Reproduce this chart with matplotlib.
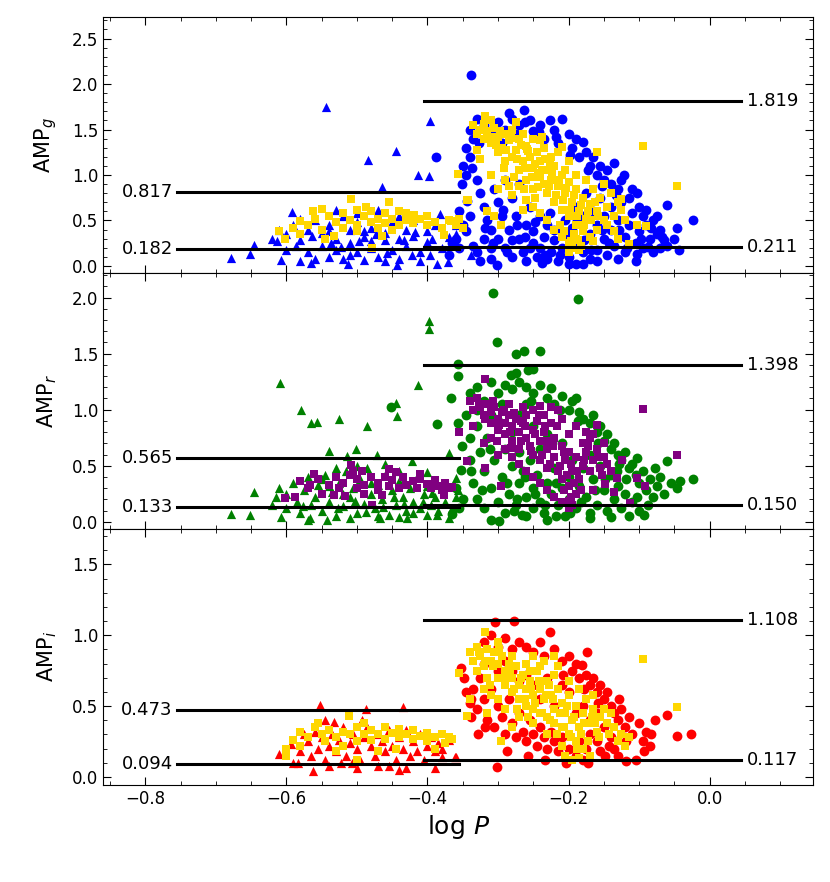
import numpy as np
import matplotlib
matplotlib.use("Agg")
import matplotlib.pyplot as plt
from matplotlib.ticker import MultipleLocator

## ---------------- data (log P, amplitude) ----------------
## g band
g_rrc_tri = [(-0.544,1.75),(-0.444,1.26),(-0.484,1.16),(-0.397,1.59),(-0.414,1.00),(-0.398,0.99),(-0.465,0.87),
    (-0.679,0.09),(-0.651,0.13),(-0.646,0.23),(-0.613,0.27),(-0.607,0.06),(-0.592,0.59),(-0.580,0.05),(-0.565,0.03),
    (-0.512,0.02),(-0.443,0.01),(-0.422,0.12),(-0.397,0.12),(-0.386,0.02),(-0.371,0.04),(-0.382,0.57),(-0.360,0.45),
    (-0.359,0.35),(-0.339,0.12),(-0.62,0.30),(-0.61,0.40),(-0.60,0.35),(-0.60,0.18),(-0.59,0.45),(-0.58,0.28),
    (-0.57,0.40),(-0.57,0.15),(-0.56,0.50),(-0.55,0.22),(-0.55,0.36),(-0.54,0.10),(-0.54,0.45),(-0.53,0.30),
    (-0.53,0.17),(-0.52,0.55),(-0.52,0.08),(-0.51,0.40),(-0.51,0.25),(-0.50,0.15),(-0.50,0.48),(-0.49,0.32),
    (-0.49,0.06),(-0.48,0.20),(-0.48,0.42),(-0.47,0.10),(-0.47,0.55),(-0.46,0.28),(-0.46,0.36),(-0.45,0.18),
    (-0.45,0.48),(-0.44,0.08),(-0.44,0.30),(-0.43,0.40),(-0.43,0.22),(-0.42,0.33),(-0.42,0.50),(-0.41,0.15),
    (-0.40,0.38),(-0.40,0.26),(-0.39,0.45),(-0.38,0.20),(-0.37,0.32),(-0.36,0.25),(-0.53,0.62),(-0.50,0.58),
    (-0.47,0.62),(-0.58,0.52),(-0.44,0.55),(-0.49,0.38),(-0.51,0.12),(-0.46,0.05),(-0.56,0.08),(-0.41,0.05),
    (-0.48,0.27),(-0.54,0.38),(-0.523,0.21),(-0.497,0.27),(-0.473,0.35),(-0.457,0.14),(-0.433,0.28),(-0.417,0.37),
    (-0.393,0.30),(-0.587,0.22),(-0.563,0.33),(-0.537,0.25)]
g_rrc_sq = [(-0.602,0.30),(-0.581,0.49),(-0.562,0.60),(-0.549,0.63),(-0.509,0.74),(-0.487,0.65),(-0.454,0.70),
    (-0.419,0.56),(-0.367,0.49),(-0.377,0.34),(-0.464,0.33),(-0.533,0.33),(-0.357,1.01),(-0.344,0.72),(-0.478,0.20),
    (-0.59,0.42),(-0.57,0.45),(-0.56,0.52),(-0.55,0.40),(-0.54,0.55),(-0.53,0.48),(-0.52,0.58),(-0.52,0.42),
    (-0.51,0.50),(-0.50,0.62),(-0.50,0.45),(-0.49,0.55),(-0.48,0.48),(-0.48,0.60),(-0.47,0.52),(-0.47,0.42),
    (-0.46,0.58),(-0.46,0.47),(-0.45,0.52),(-0.44,0.45),(-0.44,0.60),(-0.43,0.50),(-0.42,0.47),(-0.41,0.52),
    (-0.40,0.45),(-0.40,0.55),(-0.39,0.48),(-0.38,0.42),(-0.37,0.50),(-0.36,0.45),(-0.61,0.38),(-0.58,0.35),
    (-0.545,0.30),(-0.45,0.40),(-0.50,0.38),(-0.43,0.58),(-0.355,0.52),(-0.35,0.42)]
g_rrab_circ = [(-0.339,2.10),(-0.285,1.68),(-0.263,1.71),(-0.226,1.61),(-0.210,1.62),(-0.330,1.62),(-0.388,1.20),
    (-0.351,0.90),(-0.344,0.71),(-0.023,0.51),(-0.047,0.42),(-0.061,0.67),(-0.103,0.80),(-0.043,0.18),(-0.087,0.21),
    (-0.103,0.13),(-0.121,1.00),(-0.136,1.13),(-0.180,1.36),(-0.301,0.01),(-0.237,0.03),(-0.180,0.02),
    (-0.34,1.50),(-0.335,1.40),(-0.345,1.30),(-0.34,1.20),(-0.35,1.10),(-0.345,1.00),(-0.355,0.60),(-0.35,0.45),
    (-0.36,0.30),(-0.355,0.20),(-0.365,0.25),(-0.37,0.12),(-0.32,1.55),(-0.31,1.45),(-0.30,1.58),(-0.295,1.35),
    (-0.29,1.50),(-0.28,1.62),(-0.275,1.45),(-0.27,1.55),(-0.255,1.60),(-0.25,1.48),(-0.24,1.55),(-0.235,1.40),
    (-0.22,1.50),(-0.215,1.35),(-0.20,1.45),(-0.195,1.30),(-0.19,1.40),(-0.185,1.20),(-0.175,1.25),(-0.17,1.10),
    (-0.165,1.20),(-0.16,1.00),(-0.155,1.10),(-0.15,0.95),(-0.145,1.05),(-0.14,0.90),(-0.13,0.85),(-0.125,0.95),
    (-0.115,0.75),(-0.11,0.85),(-0.10,0.65),(-0.095,0.55),(-0.09,0.45),(-0.08,0.50),(-0.075,0.35),(-0.07,0.40),
    (-0.065,0.28),(-0.06,0.22),(-0.05,0.30),(-0.33,0.95),(-0.325,0.80),(-0.32,0.65),(-0.315,0.50),(-0.31,0.40),
    (-0.305,0.85),(-0.30,0.30),(-0.30,0.70),(-0.295,0.55),(-0.29,0.20),(-0.29,0.95),(-0.285,0.40),(-0.28,0.10),
    (-0.28,0.75),(-0.275,0.55),(-0.27,0.30),(-0.27,0.90),(-0.265,0.15),(-0.26,0.45),(-0.26,0.05),(-0.255,0.65),
    (-0.25,0.25),(-0.25,0.38),(-0.245,0.10),(-0.24,0.55),(-0.24,0.20),(-0.235,0.32),(-0.23,0.08),(-0.23,0.45),
    (-0.225,0.15),(-0.22,0.28),(-0.215,0.05),(-0.21,0.38),(-0.21,0.20),(-0.205,0.50),(-0.20,0.10),(-0.20,0.30),
    (-0.195,0.42),(-0.19,0.02),(-0.19,0.65),(-0.185,0.25),(-0.18,0.55),(-0.18,0.15),(-0.175,0.80),(-0.17,0.35),
    (-0.17,0.08),(-0.165,0.60),(-0.16,0.45),(-0.16,0.18),(-0.155,0.75),(-0.15,0.30),(-0.15,0.55),(-0.145,0.12),
    (-0.14,0.65),(-0.14,0.40),(-0.135,0.22),(-0.13,0.50),(-0.125,0.70),(-0.12,0.32),(-0.12,0.15),(-0.115,0.45),
    (-0.11,0.58),(-0.105,0.25),(-0.10,0.38),(-0.095,0.20),(-0.09,0.62),(-0.085,0.30),(-0.08,0.15),(-0.075,0.55),
    (-0.07,0.20),(-0.33,0.15),(-0.32,0.30),(-0.31,0.08),(-0.345,0.38),(-0.34,0.55),(-0.335,0.22),(-0.325,0.05),
    (-0.31,0.20),(-0.28,0.28),(-0.255,0.20),(-0.22,0.40),(-0.20,0.02),(-0.16,0.05),(-0.13,0.08),(-0.105,0.05),
    (-0.287,0.15),(-0.273,0.45),(-0.262,0.32),(-0.247,0.48),(-0.233,0.12),(-0.227,0.58),(-0.212,0.12),(-0.198,0.36),
    (-0.188,0.50),(-0.178,0.28),(-0.168,0.18),(-0.153,0.40),(-0.143,0.25),(-0.128,0.40),(-0.117,0.20),(-0.098,0.30),
    (-0.083,0.42),(-0.068,0.32),(-0.307,0.25),(-0.318,0.42),(-0.293,0.62),(-0.337,1.08),(-0.327,1.35),(-0.262,1.58),
    (-0.242,1.47),(-0.218,1.42),(-0.198,1.22),(-0.172,1.05),(-0.152,0.88),(-0.133,0.78)]
g_rrab_sq = [(-0.318,1.65),(-0.320,1.56),(-0.160,1.25),(-0.095,1.32),(-0.046,0.88),(-0.357,1.01),(-0.343,0.72),
    (-0.237,1.42),(-0.296,0.45),(-0.103,0.45),(-0.090,0.44),(-0.114,0.24),(-0.197,0.27),(-0.166,0.27),(-0.126,0.74),
    (-0.136,0.38),(-0.209,1.31),(-0.259,1.29),(-0.33,1.45),(-0.325,1.50),(-0.32,1.40),(-0.315,1.48),(-0.31,1.35),
    (-0.305,1.52),(-0.30,1.42),(-0.30,1.25),(-0.295,1.30),(-0.29,1.45),(-0.29,1.15),(-0.285,1.38),(-0.28,1.50),
    (-0.28,1.20),(-0.275,1.28),(-0.27,1.40),(-0.27,1.05),(-0.265,1.15),(-0.26,1.32),(-0.26,0.95),(-0.255,1.20),
    (-0.25,1.40),(-0.25,1.08),(-0.25,0.85),(-0.245,1.25),(-0.24,0.98),(-0.24,1.15),(-0.235,0.90),(-0.235,1.30),
    (-0.23,1.05),(-0.23,0.80),(-0.225,1.20),(-0.225,0.95),(-0.22,0.70),(-0.22,1.10),(-0.215,0.88),(-0.21,1.00),
    (-0.21,0.62),(-0.205,0.80),(-0.20,0.92),(-0.20,0.55),(-0.20,1.15),(-0.195,0.70),(-0.19,0.85),(-0.19,0.45),
    (-0.185,0.60),(-0.18,0.75),(-0.18,0.38),(-0.175,0.95),(-0.175,0.52),(-0.17,0.68),(-0.17,0.32),(-0.165,0.85),
    (-0.16,0.60),(-0.155,0.75),(-0.15,0.50),(-0.15,0.90),(-0.145,0.65),(-0.14,0.80),(-0.135,0.55),(-0.13,0.70),
    (-0.31,1.00),(-0.30,0.85),(-0.29,0.95),(-0.28,0.78),(-0.27,0.88),(-0.26,0.72),(-0.25,0.65),(-0.24,0.58),
    (-0.23,0.50),(-0.22,0.40),(-0.21,0.32),(-0.20,0.25),(-0.19,0.30),(-0.215,1.25),(-0.205,1.05),(-0.19,1.00),
    (-0.24,1.38),(-0.265,1.45),(-0.275,1.58),(-0.31,1.60),(-0.335,1.55),(-0.33,1.28),(-0.325,1.18),(-0.2,0.15),
    (-0.195,0.20),(-0.185,0.18),(-0.16,0.40),(-0.145,0.45),(-0.13,0.30),(-0.12,0.50),(-0.125,0.62),(-0.315,0.60),
    (-0.305,0.55),(-0.285,0.88),(-0.265,0.62),(-0.312,1.42),(-0.303,1.33),(-0.297,1.48),(-0.288,1.27),(-0.282,1.41),
    (-0.273,1.18),(-0.267,1.33),(-0.262,1.08),(-0.257,1.26),(-0.252,0.98),(-0.247,1.12),(-0.243,0.87),(-0.238,1.05),
    (-0.233,1.18),(-0.228,0.88),(-0.223,1.02),(-0.218,0.78),(-0.213,0.95),(-0.208,0.72),(-0.203,0.86),(-0.198,0.62),
    (-0.193,0.78),(-0.188,0.55),(-0.183,0.67),(-0.178,0.45),(-0.173,0.60),(-0.168,0.50),(-0.163,0.70),(-0.158,0.55),
    (-0.212,0.45),(-0.207,0.38),(-0.193,0.35),(-0.187,0.28),(-0.182,0.22),(-0.243,1.02),(-0.227,1.12),(-0.278,0.98),
    (-0.292,1.08),(-0.263,0.85),(-0.248,0.75)]

## r band
r_rrc_tri = [(-0.609,1.24),(-0.579,1.00),(-0.565,0.88),(-0.557,0.89),(-0.525,0.92),(-0.485,0.85),(-0.444,1.06),
    (-0.443,0.94),(-0.414,1.22),(-0.398,1.79),(-0.398,1.72),(-0.370,0.61),(-0.539,0.63),(-0.501,0.65),(-0.514,0.59),
    (-0.472,0.60),(-0.422,0.54),(-0.646,0.27),(-0.679,0.07),(-0.651,0.06),(-0.608,0.04),(-0.566,0.03),(-0.542,0.02),
    (-0.370,0.03),(-0.386,0.06),(-0.400,0.06),(-0.429,0.03),(-0.467,0.03),(-0.357,0.28),(-0.360,0.39),
    (-0.62,0.15),(-0.615,0.22),(-0.61,0.30),(-0.60,0.12),(-0.60,0.25),(-0.59,0.35),(-0.585,0.18),(-0.58,0.08),
    (-0.575,0.28),(-0.57,0.40),(-0.565,0.15),(-0.56,0.22),(-0.555,0.33),(-0.55,0.10),(-0.545,0.42),(-0.54,0.18),
    (-0.535,0.27),(-0.53,0.05),(-0.525,0.35),(-0.52,0.14),(-0.515,0.45),(-0.51,0.22),(-0.505,0.30),(-0.50,0.08),
    (-0.495,0.38),(-0.49,0.16),(-0.485,0.48),(-0.48,0.25),(-0.475,0.12),(-0.47,0.33),(-0.465,0.20),(-0.46,0.42),
    (-0.455,0.06),(-0.45,0.28),(-0.445,0.15),(-0.44,0.36),(-0.435,0.22),(-0.43,0.10),(-0.425,0.30),(-0.42,0.18),
    (-0.415,0.40),(-0.41,0.12),(-0.405,0.25),(-0.40,0.32),(-0.395,0.15),(-0.39,0.22),(-0.385,0.10),(-0.38,0.30),
    (-0.375,0.18),(-0.365,0.12),(-0.36,0.22),(-0.50,0.50),(-0.46,0.52),(-0.53,0.48),(-0.44,0.45),(-0.40,0.44),
    (-0.57,0.02),(-0.47,0.05),(-0.51,0.03),(-0.44,0.04),(-0.52,0.25),(-0.48,0.35),(-0.54,0.32),(-0.42,0.08),
    (-0.55,0.38),(-0.527,0.12),(-0.503,0.19),(-0.487,0.09),(-0.463,0.13),(-0.447,0.22),(-0.433,0.16),(-0.407,0.18),
    (-0.393,0.26),(-0.577,0.14)]
r_rrc_sq = [(-0.602,0.21),(-0.588,0.22),(-0.581,0.36),(-0.566,0.33),(-0.561,0.43),(-0.549,0.25),(-0.533,0.24),
    (-0.517,0.23),(-0.509,0.51),(-0.493,0.45),(-0.464,0.24),(-0.479,0.15),(-0.454,0.47),(-0.410,0.43),(-0.377,0.24),
    (-0.365,0.31),(-0.356,0.80),(-0.344,0.54),(-0.57,0.30),(-0.555,0.38),(-0.54,0.33),(-0.53,0.40),(-0.52,0.35),
    (-0.51,0.42),(-0.50,0.30),(-0.50,0.38),(-0.49,0.33),(-0.48,0.40),(-0.47,0.35),(-0.47,0.28),(-0.46,0.40),
    (-0.455,0.32),(-0.45,0.37),(-0.44,0.30),(-0.435,0.40),(-0.43,0.33),(-0.42,0.36),(-0.415,0.30),(-0.41,0.38),
    (-0.40,0.34),(-0.395,0.30),(-0.39,0.37),(-0.385,0.32),(-0.38,0.28),(-0.375,0.35),(-0.37,0.30),(-0.525,0.30),
    (-0.445,0.44),(-0.49,0.25),(-0.505,0.45)]
r_rrab_circ = [(-0.307,2.04),(-0.187,1.99),(-0.302,1.60),(-0.274,1.50),(-0.263,1.52),(-0.241,1.52),(-0.357,1.41),
    (-0.357,1.30),(-0.282,1.31),(-0.275,1.33),(-0.258,1.35),(-0.250,1.36),(-0.366,1.10),(-0.225,1.19),(-0.189,1.10),
    (-0.061,0.54),(-0.023,0.38),(-0.042,0.36),(-0.046,0.30),(-0.103,0.57),(-0.077,0.48),(-0.093,0.06),(-0.218,0.05),
    (-0.266,0.06),(-0.299,0.01),(-0.365,0.07),(-0.357,0.88),(-0.351,0.68),(-0.352,0.46),(-0.452,1.02),(-0.387,0.87),
    (-0.34,1.15),(-0.33,1.20),(-0.32,1.08),(-0.31,1.25),(-0.30,1.15),(-0.29,1.22),(-0.28,1.18),(-0.27,1.25),
    (-0.26,1.20),(-0.25,1.15),(-0.24,1.22),(-0.23,1.10),(-0.22,1.05),(-0.21,1.12),(-0.20,1.00),(-0.195,1.08),
    (-0.185,0.98),(-0.18,0.92),(-0.17,0.88),(-0.165,0.95),(-0.16,0.80),(-0.155,0.85),(-0.15,0.72),(-0.145,0.78),
    (-0.14,0.65),(-0.135,0.70),(-0.13,0.60),(-0.125,0.55),(-0.12,0.62),(-0.115,0.48),(-0.11,0.52),(-0.105,0.42),
    (-0.10,0.35),(-0.095,0.45),(-0.09,0.28),(-0.085,0.38),(-0.08,0.22),(-0.075,0.32),(-0.07,0.40),(-0.065,0.25),
    (-0.055,0.35),(-0.345,0.95),(-0.34,0.75),(-0.34,0.55),(-0.335,0.35),(-0.33,0.20),(-0.33,0.85),(-0.325,0.62),
    (-0.32,0.45),(-0.32,0.12),(-0.315,0.75),(-0.31,0.30),(-0.305,0.55),(-0.30,0.18),(-0.30,0.90),(-0.295,0.40),
    (-0.29,0.65),(-0.29,0.08),(-0.285,0.25),(-0.28,0.50),(-0.28,0.80),(-0.275,0.15),(-0.27,0.35),(-0.27,0.62),
    (-0.265,0.45),(-0.26,0.22),(-0.26,0.05),(-0.255,0.55),(-0.25,0.30),(-0.25,0.12),(-0.245,0.42),(-0.24,0.18),
    (-0.24,0.65),(-0.235,0.08),(-0.23,0.35),(-0.225,0.25),(-0.22,0.48),(-0.215,0.15),(-0.21,0.30),(-0.205,0.05),
    (-0.20,0.40),(-0.20,0.20),(-0.195,0.55),(-0.19,0.12),(-0.185,0.32),(-0.18,0.48),(-0.175,0.22),(-0.17,0.60),
    (-0.17,0.08),(-0.165,0.38),(-0.16,0.15),(-0.155,0.50),(-0.15,0.28),(-0.145,0.10),(-0.14,0.42),(-0.135,0.20),
    (-0.13,0.32),(-0.125,0.12),(-0.12,0.25),(-0.115,0.05),(-0.11,0.18),(-0.10,0.10),(-0.35,0.20),(-0.355,0.12),
    (-0.36,0.30),(-0.31,0.02),(-0.23,0.02),(-0.17,0.03),(-0.14,0.04),(-0.27,0.95),(-0.25,0.85),(-0.23,0.78),
    (-0.21,0.70),(-0.33,1.00),(-0.31,0.95),(-0.26,1.05),(-0.287,0.35),(-0.273,0.20),(-0.262,0.40),(-0.247,0.25),
    (-0.233,0.15),(-0.218,0.35),(-0.198,0.08),(-0.183,0.18),(-0.163,0.28),(-0.148,0.38),(-0.132,0.45),(-0.118,0.38),
    (-0.103,0.22),(-0.088,0.15),(-0.312,0.65),(-0.323,0.28),(-0.338,0.45),(-0.295,1.05),(-0.253,1.08),(-0.212,1.00),
    (-0.187,0.90),(-0.158,0.70),(-0.128,0.52),(-0.277,0.10)]
r_rrab_sq = [(-0.318,1.27),(-0.095,1.01),(-0.046,0.60),(-0.356,0.80),(-0.344,0.54),(-0.160,0.86),(-0.124,0.55),
    (-0.318,0.48),(-0.296,0.32),(-0.103,0.39),(-0.091,0.32),(-0.113,0.17),(-0.199,0.19),(-0.166,0.28),(-0.136,0.27),
    (-0.148,0.34),(-0.132,0.39),(-0.241,1.03),(-0.34,1.08),(-0.335,1.00),(-0.33,1.10),(-0.325,1.02),(-0.32,0.95),
    (-0.315,1.05),(-0.31,0.98),(-0.31,0.88),(-0.305,1.02),(-0.30,0.92),(-0.30,0.82),(-0.295,0.98),(-0.29,0.88),
    (-0.29,0.78),(-0.285,0.95),(-0.28,0.85),(-0.28,0.72),(-0.275,0.92),(-0.27,0.80),(-0.27,0.65),(-0.265,0.88),
    (-0.26,0.75),(-0.26,0.95),(-0.255,0.68),(-0.25,0.82),(-0.25,0.60),(-0.245,0.90),(-0.24,0.72),(-0.24,0.55),
    (-0.235,0.80),(-0.23,0.65),(-0.23,0.48),(-0.225,0.88),(-0.22,0.58),(-0.22,0.75),(-0.215,0.45),(-0.21,0.68),
    (-0.21,0.38),(-0.205,0.55),(-0.20,0.62),(-0.20,0.32),(-0.20,0.78),(-0.195,0.45),(-0.19,0.25),(-0.19,0.58),
    (-0.185,0.38),(-0.18,0.50),(-0.18,0.70),(-0.175,0.62),(-0.17,0.45),(-0.17,0.75),(-0.165,0.55),(-0.16,0.65),
    (-0.155,0.48),(-0.15,0.58),(-0.145,0.52),(-0.14,0.45),(-0.30,0.60),(-0.29,0.65),(-0.28,0.58),(-0.27,0.52),
    (-0.26,0.45),(-0.25,0.40),(-0.24,0.35),(-0.23,0.28),(-0.22,0.22),(-0.21,0.18),(-0.2,0.12),(-0.195,0.15),
    (-0.32,0.70),(-0.31,0.75),(-0.335,0.85),(-0.25,1.00),(-0.235,0.95),(-0.21,0.92),(-0.19,0.85),(-0.175,0.80),
    (-0.165,0.78),(-0.15,0.70),(-0.215,1.00),(-0.225,1.02),(-0.265,1.02),(-0.285,1.05),(-0.327,1.05),(-0.318,0.92),
    (-0.307,1.08),(-0.298,0.86),(-0.292,1.00),(-0.283,0.80),(-0.277,0.97),(-0.268,0.72),(-0.262,0.85),(-0.253,0.63),
    (-0.247,0.78),(-0.242,0.95),(-0.237,0.60),(-0.232,0.72),(-0.227,0.52),(-0.222,0.68),(-0.217,0.85),(-0.212,0.50),
    (-0.207,0.62),(-0.202,0.42),(-0.197,0.52),(-0.193,0.35),(-0.188,0.45),(-0.183,0.28),(-0.178,0.55),(-0.172,0.68),
    (-0.158,0.58),(-0.153,0.42),(-0.207,0.28),(-0.197,0.22),(-0.268,0.90),(-0.282,0.66),(-0.302,0.72),(-0.233,0.85)]

## i band
i_rrc_tri = [(-0.611,0.16),(-0.359,0.14),(-0.553,0.51),(-0.487,0.48),(-0.435,0.49),(-0.562,0.04),(-0.430,0.06),
    (-0.390,0.06),(-0.594,0.23),(-0.590,0.10),(-0.575,0.30),(-0.545,0.40),(-0.533,0.39),(-0.493,0.40),(-0.507,0.10),
    (-0.523,0.10),(-0.455,0.08),(-0.379,0.14),(-0.361,0.14),(-0.370,0.26),(-0.583,0.10),(-0.58,0.18),(-0.57,0.25),
    (-0.565,0.15),(-0.56,0.32),(-0.555,0.20),(-0.55,0.28),(-0.545,0.12),(-0.54,0.22),(-0.535,0.30),(-0.53,0.18),
    (-0.525,0.26),(-0.52,0.35),(-0.515,0.15),(-0.51,0.24),(-0.505,0.30),(-0.50,0.20),(-0.495,0.12),(-0.49,0.28),
    (-0.485,0.35),(-0.48,0.22),(-0.475,0.15),(-0.47,0.30),(-0.465,0.25),(-0.46,0.18),(-0.455,0.33),(-0.45,0.22),
    (-0.445,0.12),(-0.44,0.28),(-0.435,0.20),(-0.43,0.33),(-0.425,0.15),(-0.42,0.25),(-0.415,0.18),(-0.41,0.30),
    (-0.405,0.12),(-0.40,0.22),(-0.395,0.28),(-0.39,0.18),(-0.385,0.24),(-0.38,0.20),(-0.54,0.08),(-0.47,0.08),
    (-0.50,0.06),(-0.44,0.05)]
i_rrc_sq = [(-0.511,0.43),(-0.60,0.20),(-0.59,0.26),(-0.58,0.32),(-0.57,0.28),(-0.56,0.35),(-0.55,0.30),
    (-0.545,0.25),(-0.54,0.33),(-0.53,0.28),(-0.52,0.32),(-0.52,0.22),(-0.51,0.30),(-0.50,0.35),(-0.50,0.25),
    (-0.49,0.30),(-0.48,0.33),(-0.48,0.26),(-0.47,0.30),(-0.46,0.35),(-0.46,0.27),(-0.45,0.31),(-0.44,0.28),
    (-0.44,0.34),(-0.43,0.30),(-0.42,0.27),(-0.42,0.33),(-0.41,0.29),(-0.40,0.31),(-0.40,0.25),(-0.39,0.28),
    (-0.38,0.30),(-0.375,0.24),(-0.37,0.28),(-0.365,0.27),(-0.53,0.18),(-0.49,0.38),(-0.58,0.22),(-0.445,0.20),
    (-0.555,0.38),(-0.60,0.15),(-0.50,0.12),(-0.47,0.18),(-0.39,0.20)]
i_rrab_circ = [(-0.304,1.09),(-0.277,1.10),(-0.226,1.02),(-0.174,0.88),(-0.181,0.79),(-0.129,0.55),(-0.077,0.40),
    (-0.061,0.44),(-0.047,0.29),(-0.027,0.30),(-0.301,0.07),(-0.353,0.77),(-0.348,0.70),(-0.328,0.30),(-0.339,0.42),
    (-0.119,0.11),(-0.105,0.12),(-0.32,0.95),(-0.31,1.00),(-0.30,0.92),(-0.29,0.98),(-0.28,0.90),(-0.27,0.95),
    (-0.26,0.92),(-0.25,0.88),(-0.24,0.95),(-0.235,0.85),(-0.22,0.90),(-0.21,0.82),(-0.20,0.85),(-0.195,0.75),
    (-0.19,0.80),(-0.185,0.70),(-0.175,0.72),(-0.17,0.65),(-0.165,0.70),(-0.16,0.60),(-0.155,0.65),(-0.15,0.55),
    (-0.145,0.60),(-0.14,0.50),(-0.135,0.45),(-0.13,0.40),(-0.125,0.48),(-0.12,0.35),(-0.115,0.42),(-0.11,0.30),
    (-0.10,0.38),(-0.095,0.25),(-0.09,0.32),(-0.085,0.22),(-0.345,0.60),(-0.34,0.52),(-0.335,0.62),(-0.33,0.48),
    (-0.325,0.70),(-0.32,0.55),(-0.315,0.40),(-0.31,0.62),(-0.305,0.35),(-0.30,0.50),(-0.295,0.42),(-0.29,0.30),
    (-0.285,0.55),(-0.28,0.38),(-0.275,0.28),(-0.27,0.45),(-0.265,0.32),(-0.26,0.25),(-0.255,0.40),(-0.25,0.30),
    (-0.245,0.22),(-0.24,0.35),(-0.235,0.28),(-0.23,0.20),(-0.225,0.32),(-0.22,0.25),(-0.215,0.18),(-0.21,0.28),
    (-0.20,0.20),(-0.19,0.15),(-0.185,0.25),(-0.18,0.12),(-0.175,0.20),(-0.17,0.30),(-0.16,0.25),(-0.155,0.18),
    (-0.15,0.35),(-0.14,0.28),(-0.135,0.20),(-0.13,0.15),(-0.28,0.75),(-0.27,0.68),(-0.26,0.72),(-0.25,0.65),
    (-0.23,0.70),(-0.21,0.65),(-0.2,0.60),(-0.24,0.55),(-0.22,0.50),(-0.19,0.45),(-0.18,0.50),(-0.17,0.40),
    (-0.16,0.45),(-0.3,0.75),(-0.29,0.82),(-0.32,0.80),(-0.287,0.18),(-0.258,0.15),(-0.233,0.12),(-0.203,0.10),
    (-0.173,0.10),(-0.148,0.15),(-0.143,0.22),(-0.118,0.25),(-0.093,0.18),(-0.083,0.30),(-0.338,0.55),(-0.318,0.35),
    (-0.208,0.72),(-0.178,0.62),(-0.158,0.52)]
i_rrab_sq = [(-0.318,1.02),(-0.095,0.83),(-0.046,0.49),(-0.356,0.73),(-0.296,0.25),(-0.344,0.43),(-0.34,0.88),
    (-0.335,0.82),(-0.33,0.92),(-0.325,0.85),(-0.32,0.78),(-0.315,0.90),(-0.31,0.82),(-0.305,0.88),(-0.30,0.80),
    (-0.30,0.70),(-0.295,0.85),(-0.29,0.75),(-0.29,0.65),(-0.285,0.80),(-0.28,0.70),(-0.28,0.60),(-0.275,0.78),
    (-0.27,0.65),(-0.27,0.55),(-0.265,0.72),(-0.26,0.62),(-0.26,0.50),(-0.255,0.68),(-0.25,0.58),(-0.25,0.48),
    (-0.245,0.75),(-0.24,0.62),(-0.24,0.45),(-0.235,0.55),(-0.23,0.68),(-0.23,0.42),(-0.225,0.58),(-0.22,0.48),
    (-0.22,0.38),(-0.215,0.62),(-0.21,0.52),(-0.21,0.35),(-0.205,0.45),(-0.20,0.58),(-0.20,0.30),(-0.195,0.40),
    (-0.19,0.50),(-0.19,0.25),(-0.185,0.35),(-0.18,0.45),(-0.18,0.20),(-0.175,0.55),(-0.17,0.38),(-0.17,0.15),
    (-0.165,0.48),(-0.16,0.32),(-0.155,0.42),(-0.15,0.48),(-0.145,0.38),(-0.14,0.45),(-0.135,0.35),(-0.13,0.25),
    (-0.125,0.30),(-0.12,0.22),(-0.115,0.28),(-0.195,0.12),(-0.205,0.15),(-0.185,0.13),(-0.28,0.85),(-0.26,0.80),
    (-0.24,0.78),(-0.22,0.72),(-0.20,0.68),(-0.185,0.62),(-0.165,0.58),(-0.315,0.70),(-0.33,0.75),(-0.31,0.58),
    (-0.3,0.55),(-0.29,0.48),(-0.27,0.42),(-0.25,0.38),(-0.23,0.30),(-0.21,0.22),(-0.22,0.85),(-0.235,0.82),
    (-0.25,0.85),(-0.3,0.95),(-0.32,0.62),(-0.34,0.55),(-0.315,0.45),(-0.28,0.35),(-0.255,0.75),(-0.215,0.78),
    (-0.327,0.88),(-0.318,0.82),(-0.307,0.78),(-0.298,0.90),(-0.292,0.70),(-0.283,0.75),(-0.277,0.62),(-0.268,0.70),
    (-0.262,0.55),(-0.253,0.62),(-0.247,0.52),(-0.242,0.68),(-0.237,0.45),(-0.232,0.58),(-0.227,0.40),(-0.222,0.55),
    (-0.217,0.30),(-0.212,0.45),(-0.207,0.35),(-0.202,0.50),(-0.197,0.28),(-0.193,0.42),(-0.188,0.20),(-0.183,0.30),
    (-0.178,0.38),(-0.172,0.25),(-0.167,0.42),(-0.162,0.38),(-0.157,0.28),(-0.143,0.30),(-0.273,0.48),(-0.258,0.42),
    (-0.312,0.65),(-0.228,0.65)]

## amplitude limits (RRc: min, max ; RRab: min, max)
bands = ['g', 'r', 'i']
rrc_limits = {'g': (0.182, 0.817), 'r': (0.133, 0.565), 'i': (0.094, 0.473)}
rrab_limits = {'g': (0.211, 1.819), 'r': (0.150, 1.398), 'i': (0.117, 1.108)}
rrc_span = (-0.755, -0.355)
rrab_span = (-0.405, 0.045)

main_colors = {'g': 'blue', 'r': 'green', 'i': 'red'}
comp_colors = {'g': 'gold', 'r': 'purple', 'i': 'gold'}
ylims = {'g': (-0.076, 2.74), 'r': (-0.063, 2.22), 'i': (-0.057, 1.75)}
data = {
    'g': (g_rrc_tri, g_rrc_sq, g_rrab_circ, g_rrab_sq),
    'r': (r_rrc_tri, r_rrc_sq, r_rrab_circ, r_rrab_sq),
    'i': (i_rrc_tri, i_rrc_sq, i_rrab_circ, i_rrab_sq),
}

fig, axes = plt.subplots(3, 1, sharex=True, figsize=(8.3, 8.82), dpi=100)
fig.subplots_adjust(left=0.124, right=0.98, top=0.981, bottom=0.110, hspace=0)

for ax, b in zip(axes, bands):
    tri, csq, circ, absq = [np.array(d) for d in data[b]]
    ax.scatter(tri[:, 0], tri[:, 1], marker='^', s=44, color=main_colors[b], linewidths=0, zorder=2)
    ax.scatter(circ[:, 0], circ[:, 1], marker='o', s=50, color=main_colors[b], linewidths=0, zorder=2)
    ax.scatter(csq[:, 0], csq[:, 1], marker='s', s=40, color=comp_colors[b], linewidths=0, zorder=3)
    ax.scatter(absq[:, 0], absq[:, 1], marker='s', s=40, color=comp_colors[b], linewidths=0, zorder=3)

    for v in rrc_limits[b]:
        ax.plot(rrc_span, [v, v], color='black', lw=2.2, zorder=4)
        ax.text(rrc_span[0] - 0.006, v, '%.3f' % v, ha='right', va='center', fontsize=13)
    for v in rrab_limits[b]:
        ax.plot(rrab_span, [v, v], color='black', lw=2.2, zorder=4)
        ax.text(rrab_span[1] + 0.008, v, '%.3f' % v, ha='left', va='center', fontsize=13)

    ax.set_ylim(*ylims[b])
    ax.set_ylabel('AMP$_%s$' % b, fontsize=15)
    ax.yaxis.set_major_locator(MultipleLocator(0.5))
    ax.yaxis.set_minor_locator(MultipleLocator(0.1))
    ax.xaxis.set_major_locator(MultipleLocator(0.2))
    ax.xaxis.set_minor_locator(MultipleLocator(0.05))
    ax.tick_params(which='both', direction='in', top=True, right=True, labelsize=12)
    ax.tick_params(which='major', length=6)
    ax.tick_params(which='minor', length=3)
    ax.yaxis.set_label_coords(-0.062, 0.5)

axes[-1].set_xlim(-0.86, 0.147)
axes[-1].set_xlabel('log $P$', fontsize=18)

fig.savefig('out.png', dpi=100)
